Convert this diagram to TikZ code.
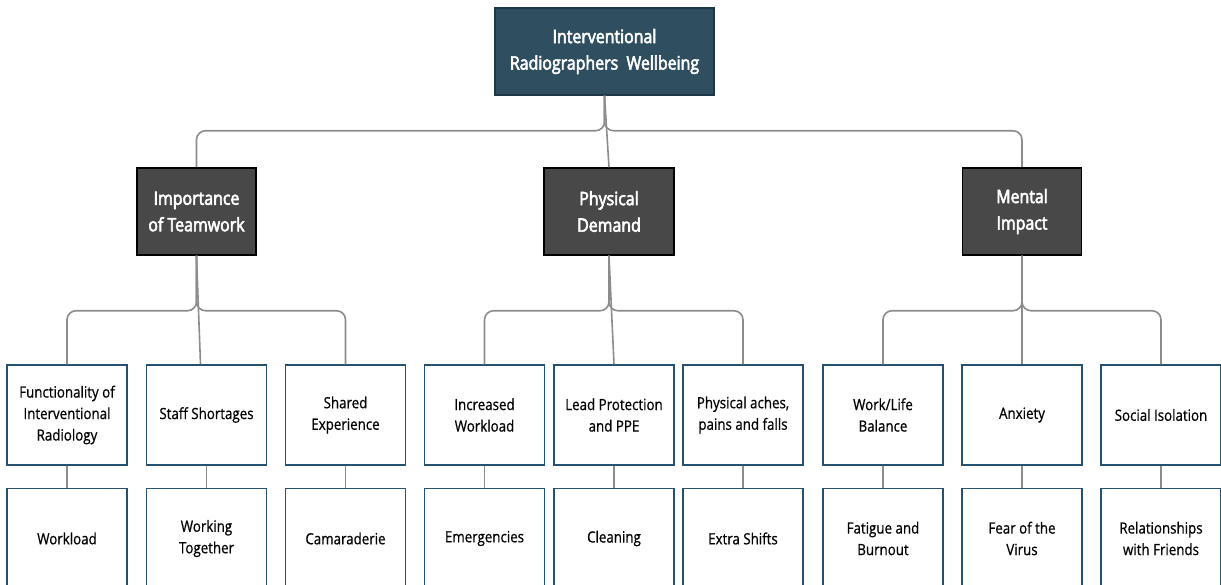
\documentclass[tikz,border=0pt]{standalone}
\usepackage{fontspec}
\setmainfont{Open Sans}[FakeStretch=0.86, FakeBold=0.6]
\newfontfamily\headfont{Open Sans}[FakeStretch=0.86, FakeBold=3]
\usepackage{tikz}
\usetikzlibrary{positioning}
\definecolor{topfill}{RGB}{47,78,95}
\definecolor{topline}{RGB}{30,55,70}
\definecolor{midfill}{RGB}{72,72,72}
\definecolor{subline}{RGB}{38,82,114}
\definecolor{linegray}{RGB}{140,140,140}
\tikzstyle{rootbox} = [rectangle, draw=topline, fill=topfill, line width=1.5pt, text=white, minimum width=219pt, minimum height=87pt, align=center, font=\headfont\fontsize{18.5}{26.5}\selectfont]
\tikzstyle{themebox} = [rectangle, draw=black, fill=midfill, line width=1.5pt, text=white, minimum height=87pt, align=center, font=\headfont\fontsize{18.5}{26.5}\selectfont]
\tikzstyle{subbox} = [rectangle, draw=subline, fill=white, line width=1.5pt, minimum width=120pt, minimum height=100pt, align=center, font=\fontsize{15.5}{21.5}\selectfont]
\tikzstyle{line} = [draw=linegray, line width=1.6pt, rounded corners=9pt]

\begin{document}
\begin{tikzpicture}[x=1pt, y=-1pt]
			\useasboundingbox (0,0) rectangle (1221,585);
			\clip (0,0) rectangle (1221,585);

			\node [rootbox] (root) at (604.5, 51.5) {Interventional\\Radiographers\ \ Wellbeing};

			\node [themebox, minimum width=119pt] (team) at (196.5, 211.5) {Importance\\of Teamwork};
			\node [themebox, minimum width=130pt] (phys) at (609, 211.5) {Physical\\Demand};
			\node [themebox, minimum width=119pt] (ment) at (1022, 211.5) {Mental\\Impact};

			\node [subbox] (func) at (67, 415) {Functionality of\\Interventional\\Radiology};
			\node [subbox] (staff) at (206.5, 415) {Staff Shortages};
			\node [subbox] (shared) at (345.5, 415) {Shared\\Experience};
			\node [subbox] (incr) at (484.5, 415) {Increased\\Workload};
			\node [subbox] (lead) at (614, 415) {Lead Protection\\and PPE};
			\node [subbox] (aches) at (743, 415) {Physical aches,\\pains and falls};
			\node [subbox] (life) at (883, 415) {Work/Life\\Balance};
			\node [subbox] (anx) at (1022, 415) {Anxiety};
			\node [subbox] (iso) at (1161, 415) {Social Isolation};

			\node [subbox, below=22pt of func] (wload) {Workload};
			\node [subbox, below=22pt of staff] (togeth) {Working\\Together};
			\node [subbox, below=22pt of shared] (camar) {Camaraderie};
			\node [subbox, below=22pt of incr] (emerg) {Emergencies};
			\node [subbox, below=22pt of lead] (clean) {Cleaning};
			\node [subbox, below=22pt of aches] (shifts) {Extra Shifts};
			\node [subbox, below=22pt of life] (fatig) {Fatigue and\\Burnout};
			\node [subbox, below=22pt of anx] (virus) {Fear of the\\Virus};
			\node [subbox, below=22pt of iso] (friends) {Relationships\\with Friends};

			% root to themes
			\path [line] (root.south) -- ++(0,35) -| (team.north);
			\path [line] (root.south) -- (phys.north);
			\path [line] (root.south) -- ++(0,35) -| (ment.north);

			% themes to subthemes
			\path [line] (team.south) -- ++(0,55) -| (func.north);
			\path [line] (team.south) -- ([xshift=-6pt]staff.north);
			\path [line] (team.south) -- ++(0,55) -| (shared.north);
			\path [line] (phys.south) -- ++(0,55) -| (incr.north);
			\path [line] (phys.south) -- (lead.north);
			\path [line] (phys.south) -- ++(0,55) -| (aches.north);
			\path [line] (ment.south) -- ++(0,55) -| (life.north);
			\path [line] (ment.south) -- (anx.north);
			\path [line] (ment.south) -- ++(0,55) -| (iso.north);

			\path [line] (func) -- (wload);
			\path [line] (staff) -- (togeth);
			\path [line] (shared) -- (camar);
			\path [line] (incr) -- (emerg);
			\path [line] (lead) -- (clean);
			\path [line] (aches) -- (shifts);
			\path [line] (life) -- (fatig);
			\path [line] (anx) -- (virus);
			\path [line] (iso) -- (friends);
		\end{tikzpicture}
\end{document}
